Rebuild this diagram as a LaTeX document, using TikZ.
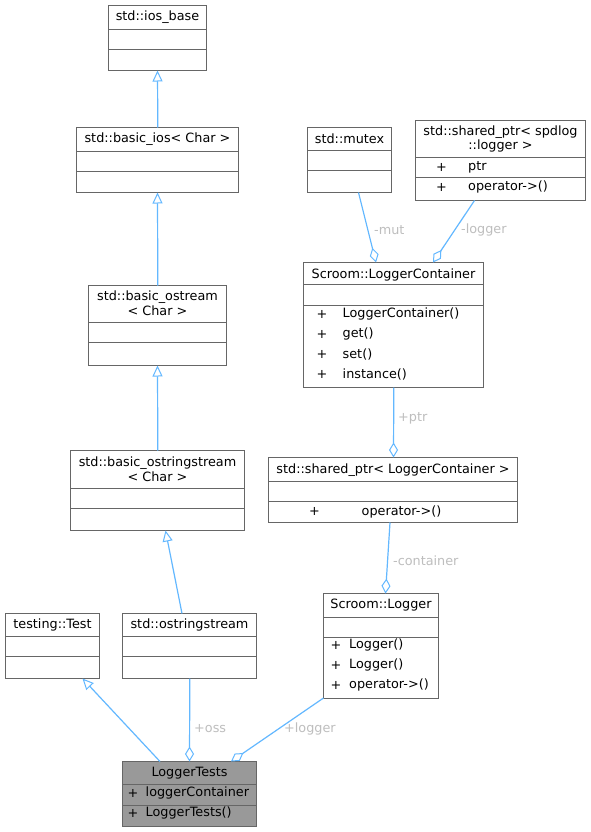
\documentclass[tikz,border=0pt]{standalone}
\usepackage{fontspec}
\setmainfont{DejaVu Sans}
\usetikzlibrary{arrows.meta,calc}
\definecolor{edge}{HTML}{63B8FF}
\definecolor{bord}{HTML}{666666}
\definecolor{lbl}{HTML}{BEBEBE}
\definecolor{hl}{HTML}{999999}
\newcommand\dv[2]{\draw[divl] ($(#1.north west)+(0,#2)$) -- ($(#1.north east)+(0,#2)$);}
\begin{document}
\begin{tikzpicture}[x=1pt,y=-1pt,
  font=\fontsize{12.8}{14}\selectfont,
  box/.style={draw=bord,line width=1pt,fill=white,anchor=north west,inner sep=0pt,outer sep=0pt},
  divl/.style={draw=bord,line width=1pt},
  txt/.style={inner sep=0pt,anchor=center},
  ltxt/.style={inner sep=0pt,anchor=west},
  lab/.style={text=lbl,inner sep=0pt,anchor=west},
  inh/.style={draw=edge,line width=1.2pt,-{Triangle[open,length=11pt,width=10pt,fill=white,line width=1pt]}},
  agg/.style={draw=edge,line width=1.2pt,-{Diamond[open,length=15pt,width=9pt,fill=white,line width=1pt]}}]
\useasboundingbox (0,0) rectangle (590,832);
\fill[white] (0,0) rectangle (590,832);

% std::ios_base
\node[box,minimum width=98pt,minimum height=65pt] (iosbase) at (108.5,5.5) {};
\dv{iosbase}{24}\dv{iosbase}{44}
\node[txt] (iosbaseT) at (157.5,17) {std::ios\_base};

% std::basic_ios
\node[box,minimum width=162pt,minimum height=65pt] (basicios) at (76.5,127.5) {};
\dv{basicios}{24}\dv{basicios}{44}
\node[txt] (basiciosT) at (157.5,139) {std::basic\_ios< Char >};

% std::basic_ostream
\node[box,minimum width=138pt,minimum height=80pt] (bos) at (88.5,285.5) {};
\dv{bos}{37}\dv{bos}{57}
\node[txt] (bosT1) at (157.5,297) {std::basic\_ostream};
\node[txt] (bosT2) at (157.5,311) {< Char >};

% std::basic_ostringstream
\node[box,minimum width=174pt,minimum height=80pt] (boss) at (70.5,450.5) {};
\dv{boss}{38}\dv{boss}{58}
\node[txt] (bossT1) at (157.5,463) {std::basic\_ostringstream};
\node[txt] (bossT2) at (157.5,477) {< Char >};

% testing::Test
\node[box,minimum width=94pt,minimum height=65pt] (test) at (5.5,613.5) {};
\dv{test}{23}\dv{test}{43}
\node[txt] (testT) at (52.5,625) {testing::Test};

% std::ostringstream
\node[box,minimum width=134pt,minimum height=65pt] (oss) at (122.5,613.5) {};
\dv{oss}{23}\dv{oss}{43}
\node[txt] (ossT) at (189.5,625) {std::ostringstream};

% Scroom::Logger
\node[box,minimum width=115pt,minimum height=105pt] (logger) at (323.5,593.5) {};
\dv{logger}{24}\dv{logger}{44}
\node[txt] (loggerT) at (381,605) {Scroom::Logger};
\node[txt] (loggerP1) at (336,645) {+};
\node[ltxt] (loggerR1) at (349,645) {Logger()};
\node[txt] (loggerP2) at (336,665) {+};
\node[ltxt] (loggerR2) at (349,665) {Logger()};
\node[txt] (loggerP3) at (336,685) {+};
\node[ltxt] (loggerR3) at (349,685) {operator->()};

% LoggerTests
\node[box,fill=hl,minimum width=134pt,minimum height=65pt] (lt) at (122.5,761.5) {};
\dv{lt}{23}\dv{lt}{44}
\node[txt] (ltT) at (189.5,773) {LoggerTests};
\node[txt] (ltP1) at (133,793) {+};
\node[ltxt] (ltR1) at (145.5,793) {loggerContainer};
\node[txt] (ltP2) at (133,813) {+};
\node[ltxt] (ltR2) at (145.5,813) {LoggerTests()};

% std::mutex
\node[box,minimum width=84pt,minimum height=65pt] (mutex) at (307.5,127.5) {};
\dv{mutex}{23}\dv{mutex}{43}
\node[txt] (mutexT) at (349.5,139) {std::mutex};

% std::shared_ptr< spdlog::logger >
\node[box,minimum width=170pt,minimum height=80pt] (spd) at (415.5,120.5) {};
\dv{spd}{37}\dv{spd}{57}
\node[txt] (spdT1) at (500.5,132) {std::shared\_ptr< spdlog};
\node[txt] (spdT2) at (500.5,146) {::logger >};
\node[txt] (spdP1) at (441.5,167) {+};
\node[ltxt] (spdR1) at (468,167) {ptr};
\node[txt] (spdP2) at (441.5,187) {+};
\node[ltxt] (spdR2) at (468,187) {operator->()};

% Scroom::LoggerContainer
\node[box,minimum width=180pt,minimum height=125pt] (lc) at (303.5,262.5) {};
\dv{lc}{22}\dv{lc}{43}
\node[txt] (lcT) at (393.5,274.5) {Scroom::LoggerContainer};
\node[txt] (lcP1) at (322,314) {+};
\node[ltxt] (lcR1) at (342.5,314) {LoggerContainer()};
\node[txt] (lcP2) at (322,334) {+};
\node[ltxt] (lcR2) at (342.5,334) {get()};
\node[txt] (lcP3) at (322,354) {+};
\node[ltxt] (lcR3) at (342.5,354) {set()};
\node[txt] (lcP4) at (322,374) {+};
\node[ltxt] (lcR4) at (342.5,374) {instance()};

% std::shared_ptr< LoggerContainer >
\node[box,minimum width=249pt,minimum height=65pt] (splc) at (268.5,457.5) {};
\dv{splc}{24}\dv{splc}{44}
\node[txt] (splcT) at (393,470) {std::shared\_ptr< LoggerContainer >};
\node[txt] (splcP1) at (314.5,511.5) {+};
\node[ltxt] (splcR1) at (361.5,511.5) {operator->()};

% inheritance
\draw[inh] ($(basicios.north)+(0.3,0)$) -- (iosbase.south);
\draw[inh] ($(bos.north)+(0.3,0)$) -- (basicios.south);
\draw[inh] ($(boss.north)+(0.3,0)$) -- (bos.south);
\draw[inh] ($(oss.north west)+(59.5,0)$) -- ($(boss.south west)+(95,0)$);
\draw[inh] ($(lt.north west)+(37.5,0)$) -- ($(test.south west)+(77,0)$);

% aggregation
\draw[agg] ($(oss.south)+(0.3,0)$) -- (lt.north);
\node[lab] (lOss) at (194,729) {+oss};
\draw[agg] ($(logger.south west)+(0,-0.5)$) -- ($(lt.north west)+(108.5,0)$);
\node[lab] (lLogger) at (284,729) {+logger};
\draw[agg] ($(splc.south west)+(121.5,0)$) -- ($(logger.north west)+(62,0)$);
\node[lab] (lCont) at (393,561) {-container};
\draw[agg] ($(lc.south west)+(90.3,0)$) -- ($(splc.north west)+(125,0)$);
\node[lab] (lPtr) at (398,418) {+ptr};
\draw[agg] ($(mutex.south west)+(51,0)$) -- ($(lc.north west)+(72.5,0)$);
\node[lab] (lMut) at (374,230) {-mut};
\draw[agg] ($(spd.south west)+(59,0)$) -- ($(lc.north west)+(129.5,0)$);
\node[lab] (lLog) at (461,230) {-logger};
\end{tikzpicture}
\end{document}
